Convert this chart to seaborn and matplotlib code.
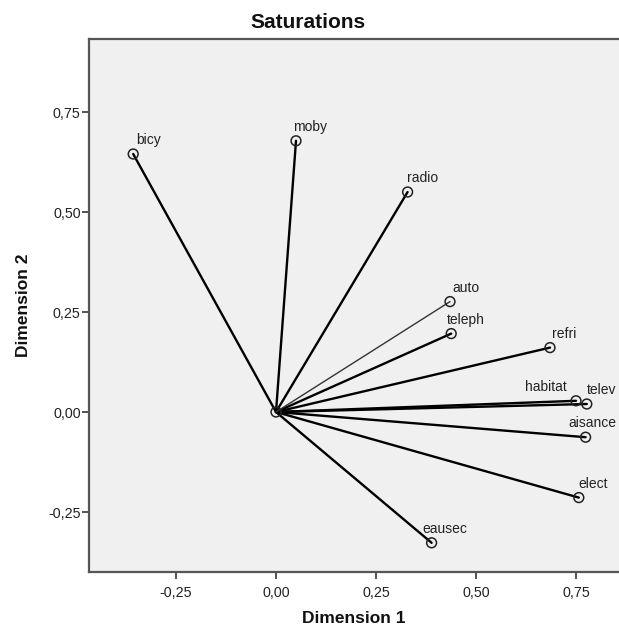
import matplotlib
matplotlib.use("Agg")
import matplotlib.pyplot as plt
import seaborn as sns
import pandas as pd
from matplotlib.ticker import FuncFormatter

# ---- data ----
variables = ["bicy", "moby", "radio", "auto", "teleph", "refri",
             "habitat", "telev", "aisance", "elect", "eausec"]
dim1 = [-0.357, 0.050, 0.329, 0.435, 0.438, 0.685,
        0.750, 0.777, 0.774, 0.757, 0.389]
dim2 = [0.645, 0.678, 0.550, 0.276, 0.196, 0.161,
        0.028, 0.020, -0.063, -0.214, -0.327]
x_ticks = [-0.25, 0.0, 0.25, 0.50, 0.75]
y_ticks = [-0.25, 0.0, 0.25, 0.50, 0.75]

# label offsets in pixels (style)
label_dx = {"bicy": 3, "moby": -3, "radio": -1, "auto": 2, "teleph": -4,
            "refri": 2, "habitat": -51, "telev": 0, "aisance": -17,
            "elect": 0, "eausec": -9}

sns.set_theme(style="white")
plt.rcParams["font.family"] = ["Liberation Sans", "DejaVu Sans"]

fig = plt.figure(figsize=(6.19, 6.35), dpi=100)
ax = fig.add_axes([89 / 619, 63 / 635, 1 - 89 / 619, (572 - 39) / 635])
ax.set_facecolor("#f0f0f0")

pts = pd.DataFrame({"var": variables, "d1": dim1, "d2": dim2})
rows = []
for v, a, b in zip(variables, dim1, dim2):
    rows.append({"var": v, "d1": 0.0, "d2": 0.0, "order": 0})
    rows.append({"var": v, "d1": a, "d2": b, "order": 1})
segs = pd.DataFrame(rows)

thick = segs[segs["var"] != "auto"]
thin = segs[segs["var"] == "auto"]
sns.lineplot(data=thick, x="d1", y="d2", units="var", estimator=None,
             sort=False, color="black", linewidth=1.7, ax=ax, legend=False)
sns.lineplot(data=thin, x="d1", y="d2", units="var", estimator=None,
             sort=False, color="#333333", linewidth=1.0, ax=ax, legend=False)

sns.scatterplot(data=pts, x="d1", y="d2", ax=ax, s=50, marker="o",
                facecolors="none", edgecolor="#222222", linewidth=1.1,
                zorder=5, legend=False)
ax.scatter([0], [0], s=50, facecolors="none", edgecolors="#222222",
           linewidths=1.1, zorder=5)

for v, a, b in zip(variables, dim1, dim2):
    ax.annotate(v, (a, b), xytext=(label_dx[v], 10), textcoords="offset pixels",
                ha="left", va="baseline", fontsize=10, color="#222222",
                annotation_clip=False)

ax.set_xlim((89 - 276) / 400, (619 - 276) / 400)
ax.set_ylim((412 - 572) / 400, (412 - 39) / 400)
ax.set_xticks(x_ticks)
ax.set_yticks(y_ticks)
fmt = FuncFormatter(lambda v, p: f"{v:.2f}".replace(".", ","))
ax.xaxis.set_major_formatter(fmt)
ax.yaxis.set_major_formatter(fmt)
ax.tick_params(axis="both", direction="out", length=5, width=1.3,
               color="#444444", labelsize=10.3, labelcolor="#222222")
ax.tick_params(axis="x", bottom=True, pad=5)
ax.tick_params(axis="y", left=True, pad=1)

for s in ["left", "bottom", "top"]:
    ax.spines[s].set_visible(True)
    ax.spines[s].set_color("#555555")
    ax.spines[s].set_linewidth(1.6)
ax.spines["right"].set_visible(False)

ax.set_xlabel("Dimension 1", fontsize=12.5, fontweight="bold", color="#111111", labelpad=8)
ax.set_ylabel("Dimension 2", fontsize=12.5, fontweight="bold", color="#111111", labelpad=12)
fig.text(0.497, 1 - 23 / 635, "Saturations", ha="center", va="center",
         fontsize=15, fontweight="bold", color="#111111")

fig.savefig("out.png", dpi=100)
